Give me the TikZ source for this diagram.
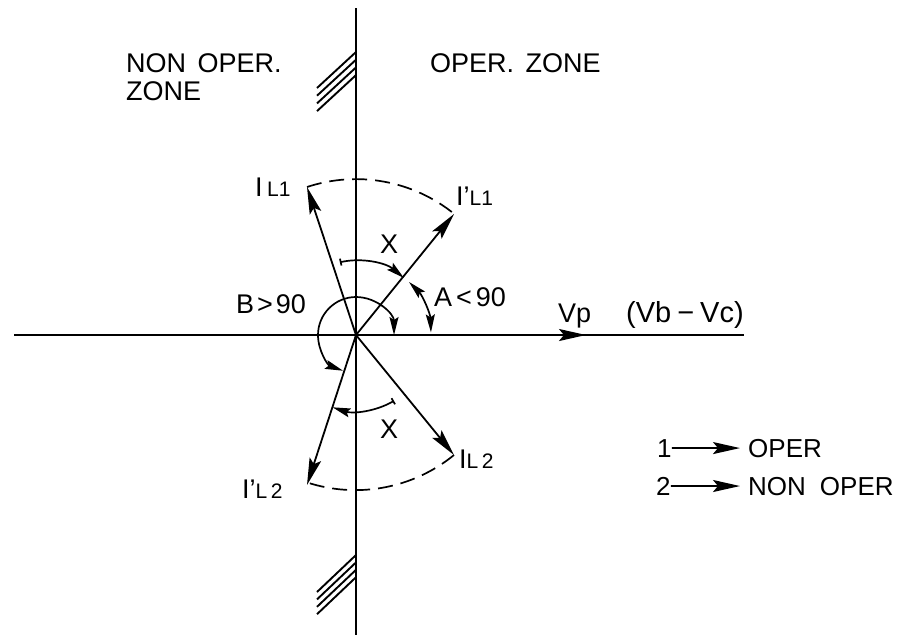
\documentclass[tikz,border=0pt]{standalone}
\usepackage{fontspec}
\setmainfont{Liberation Sans}
\usetikzlibrary{arrows.meta}

\newcommand{\lsub}[1]{{\fontsize{21}{24}\selectfont #1}}

\begin{document}
\begin{tikzpicture}[
    x=1pt, y=-1pt,
    font=\fontsize{27}{28}\selectfont,
    >={Stealth[length=27pt,width=12pt,inset=5pt]},
    smallhead/.tip={Stealth[length=18pt,width=9pt,inset=3pt]},
    axis/.style={line width=1.8pt},
    vec/.style={->, line width=1.8pt},
    swing/.style={line width=1.7pt},
    hatchline/.style={line width=1.9pt},
    dashedarc/.style={line width=1.7pt, dash pattern=on 15pt off 8pt},
    lbl/.style={inner sep=0pt},
    legend/.style={inner sep=0pt, font=\fontsize{26}{28}\selectfont},
  ]
    \useasboundingbox (0,0) rectangle (912,641);
    \coordinate (origin) at (356,335);
    \coordinate (north) at (356,8);
    \coordinate (south) at (356,635);
    \coordinate (west) at (14,335);
    \coordinate (east) at (744,335);
    \coordinate (vp) at (586,335);
    \coordinate (il1) at (307,187);
    \coordinate (ipl1) at (454,214);
    \coordinate (il2) at (454,455);
    \coordinate (ipl2) at (307,485);

    % axes
    \draw[axis, line width=2.2pt] (north) -- (south);
    \draw[axis] (west) -- (east);
    \draw[vec] (origin) -- (vp);

    % phasors
    \draw[vec] (origin) -- (il1);
    \draw[vec] (origin) -- (ipl1);
    \draw[vec] (origin) -- (il2);
    \draw[vec] (origin) -- (ipl2);

    % dashed limits
    \draw[dashedarc] (il1) arc[start angle=-108.3, end angle=-51, radius=156];
    \draw[dashedarc] (il2) arc[start angle=50.8, end angle=108, radius=156];

    % angles
    \draw[swing, {Bar[width=7pt]}-{smallhead}] ([shift={(-102.5:74.5)}]origin) arc[start angle=-102.5, end angle=-50, radius=74.5];
    \draw[swing, {Bar[width=7pt]}-{smallhead}] ([shift={(60:76)}]origin) arc[start angle=60, end angle=108, radius=76];
    \draw[swing, {smallhead}-{smallhead}] ([shift={(-45:75)}]origin) arc[start angle=-45, end angle=-2, radius=75];
    \draw[swing, {smallhead}-{smallhead}] ([shift={(0:38)}]origin) arc[start angle=0, end angle=-250, radius=38];

    % hatching
    \foreach \yy in {0,7.7,15.4,23.1}
      \draw[hatchline] (356,{52+\yy}) -- (317,{88+\yy});
    \foreach \yy in {0,7.4,14.8,22.2}
      \draw[hatchline] (356,{555+\yy}) -- (317,{592+\yy});

    % labels
    \node[lbl, align=left, anchor=north west] (nonzone) at (126,53) {NON\hspace{4pt} OPER.\\ZONE};
    \node[lbl, anchor=north west] (zone) at (430,53) {OPER.\hspace{4pt} ZONE};
    \node[lbl, anchor=base west] (lblil1) at (255,196) {I\,\lsub{L1}};
    \node[lbl, anchor=base west] (lblipl1) at (456,205) {I'\lsub{L1}};
    \node[lbl, anchor=base west] (lblil2) at (459,468) {I\lsub{L\,2}};
    \node[lbl, anchor=base west] (lblipl2) at (242,498) {I'\lsub{L\,2}};
    \node[lbl] (lblxa) at (389,244) {X};
    \node[lbl] (lblxb) at (389,429) {X};
    \node[lbl, anchor=base west] (lbla) at (434,306) {A\hspace{4pt}<\hspace{4pt}90};
    \node[lbl, anchor=base west] (lblb) at (236,313) {B\hspace{3pt}>\hspace{3pt}90};
    \node[lbl, anchor=base west] (lblvp) at (558,322) {Vp};
    \node[lbl, anchor=base west, font=\fontsize{29}{30}\selectfont] (lblvb) at (626,322) {(Vb\hspace{6pt}−\hspace{6pt}Vc)};

    % legend
    \node[legend, anchor=base west] (one) at (657,457) {1};
    \node[legend, anchor=base west] (oper) at (748,457) {OPER};
    \node[legend, anchor=base west] (two) at (656,495) {2};
    \node[legend, anchor=base west] (nonoper) at (748,495) {NON\hspace{14pt}OPER};
    \draw[vec, shorten >=8pt] (one.east) -- (oper.west);
    \draw[vec, shorten >=8pt] (two.east) -- (nonoper.west);
  \end{tikzpicture}
\end{document}
